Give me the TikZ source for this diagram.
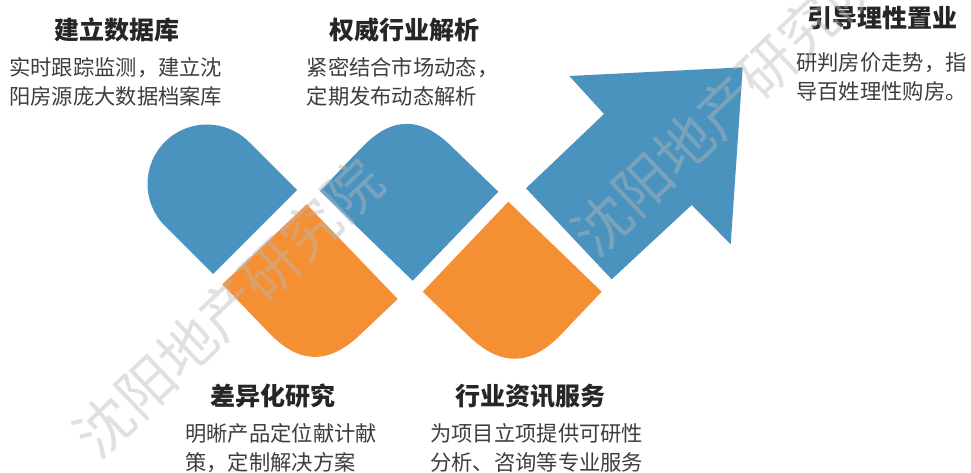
\documentclass[tikz,border=0pt]{standalone}
\usepackage{fontspec}
\setmainfont{Noto Sans CJK SC}
\definecolor{bl}{RGB}{74,147,190}
\definecolor{og}{RGB}{245,143,52}
\definecolor{ttl}{RGB}{38,38,38}
\definecolor{bdy}{RGB}{62,62,62}
\definecolor{wmc}{RGB}{185,185,185}
\tikzset{
  bluepiece/.style={fill=bl,draw=none},
  orangepiece/.style={fill=og,draw=none},
  titletext/.style={inner sep=0pt,anchor=center,text=ttl,font=\fontsize{25}{30}\selectfont\bfseries},
  bodytext/.style={inner sep=0pt,anchor=base west,align=left,text=bdy,font=\fontsize{21.3}{29}\selectfont},
  watermark/.style={inner sep=0pt,rotate=43.5,text=wmc,text opacity=0.43,font=\fontsize{57}{57}\selectfont}
}
\begin{document}
\begin{tikzpicture}[x=1pt,y=-1pt]
\useasboundingbox (0,0) rectangle (971,473);
\fill[white] (0,0) rectangle (971,473);

% blue piece 1 (bullet)
\fill[bluepiece] (297,190) -- (248.9,141.9)
  .. controls (225.7,118.7) and (188.1,118.7) .. (164.9,141.9)
  .. controls (141.7,165.1) and (141.7,202.7) .. (164.9,225.9)
  -- (213,274) -- cycle;

% blue piece 2
\fill[bluepiece] (320,191) -- (361.9,147.4)
  .. controls (391.6,116.5) and (420.1,116.0) .. (450.9,145.8)
  -- (498.3,191.7) -- (412.7,280.7) -- cycle;

% orange piece 1
\fill[orangepiece] (306.7,204.3) -- (397.7,299) -- (359.8,335.0)
  .. controls (328.2,364.9) and (299.1,364.2) .. (268.9,332.8)
  -- (222.3,284.3) -- cycle;

% orange piece 2
\fill[orangepiece] (508.3,201.7) -- (601.7,291.7) -- (561.6,333.9)
  .. controls (530.7,366.4) and (500.9,367.0) .. (468.6,335.9)
  -- (422.7,291.7) -- cycle;

% arrow
\fill[bluepiece] (742.7,67.3) -- (569.3,76) -- (604,114) -- (526,188.3)
  -- (611.7,279.3) -- (691.7,205) -- (730.7,244.3) -- cycle;

% titles
\node[titletext] (t1) at (116.7,30) {建立数据库};
\node[titletext] (t2) at (404,30) {权威行业解析};
\node[titletext] (t3) at (882.5,18) {引导理性置业};
\node[titletext] (t4) at (272.5,396) {差异化研究};
\node[titletext] (t5) at (530,396) {行业资讯服务};

% bodies (base anchor = last line baseline)
\node[bodytext] (b1) at (9,105) {实时跟踪监测，建立沈\\阳房源庞大数据档案库};
\node[bodytext] (b2) at (306.5,105) {紧密结合市场动态，\\定期发布动态解析};
\node[bodytext] (b3) at (796,100) {研判房价走势，指\\导百姓理性购房。};
\node[bodytext] (b4) at (185,470) {明晰产品定位献计献\\策，定制解决方案};
\node[bodytext] (b5) at (430,470) {为项目立项提供可研性\\分析、咨询等专业服务};

% watermarks
\node[watermark] (wm1) at (228.5,308) {沈阳地产研究院};
\node[watermark] (wm2) at (726,106) {沈阳地产研究院};
\end{tikzpicture}
\end{document}
